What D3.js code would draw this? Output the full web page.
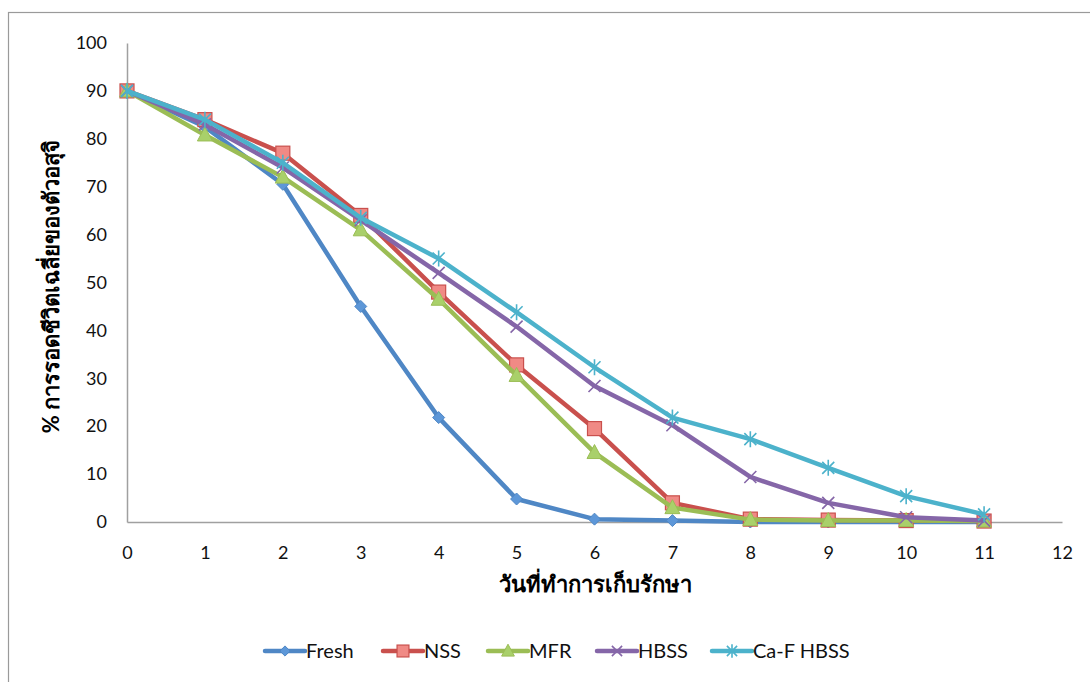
<!DOCTYPE html>
<html>
<head>
<meta charset="utf-8">
<script src="https://cdn.jsdelivr.net/npm/d3@7"></script>
<style>
  body { margin: 0; background: #fff; }
  svg { display: block; font-family: Lato, "Liberation Sans", Arial, sans-serif; }
</style>
</head>
<body>
<script>
const days = [0, 1, 2, 3, 4, 5, 6, 7, 8, 9, 10, 11];
const seriesNames = ["Fresh", "NSS", "MFR", "HBSS", "Ca-F HBSS"];
const fresh = [90, 82.5, 70.5, 45, 21.8, 4.8, 0.6, 0.3, 0, 0, 0, 0];
const nss = [90, 84, 77, 64, 48, 32.8, 19.5, 4, 0.6, 0.4, 0.3, 0.2];
const mfr = [90, 80.8, 72, 61, 46.5, 30.6, 14.5, 3, 0.5, 0.3, 0.3, 0.2];
const hbss = [90, 83, 74, 63, 52, 40.8, 28.4, 20.2, 9.4, 4, 1, 0.3];
const cafHbss = [90, 84, 75, 63.5, 55, 43.8, 32.3, 21.8, 17.3, 11.3, 5.4, 1.6];
const yTicks = [0, 10, 20, 30, 40, 50, 60, 70, 80, 90, 100];
const xTicks = [0, 1, 2, 3, 4, 5, 6, 7, 8, 9, 10, 11, 12];

const values = [fresh, nss, mfr, hbss, cafHbss];
const colors = ["#4f87c5", "#c9504d", "#9bbd55", "#8566a8", "#4cb2cb"];
const markerFill = ["#5d97d8", "#f08a85", "#a9d06a", "#8a6cb0", "#5ec2da"];
const shapes = ["diamond", "square", "triangle", "x", "star"];

const width = 1090, height = 682;
const marginLeft = 127, marginRight = 28, marginTop = 43, marginBottom = 160;

const x = d3.scaleLinear().domain([0, 12]).range([marginLeft, width - marginRight]);
const y = d3.scaleLinear().domain([0, 100]).range([height - marginBottom, marginTop]);

const svg = d3.create("svg").attr("width", width).attr("height", height);

// outer frame
svg.append("rect")
    .attr("x", 8.5).attr("y", 12.5)
    .attr("width", 1200).attr("height", 800)
    .attr("fill", "none").attr("stroke", "#9a9a9a").attr("stroke-width", 1.2);

// axes
const yAxis = svg.append("g")
    .attr("transform", `translate(${marginLeft},0)`)
    .call(d3.axisLeft(y).tickValues(yTicks).tickSize(0).tickPadding(20));
const xAxis = svg.append("g")
    .attr("transform", `translate(0,${y(0)})`)
    .call(d3.axisBottom(x).tickValues(xTicks).tickSize(0).tickPadding(24));
[xAxis, yAxis].forEach(a => {
    a.select(".domain").attr("stroke", "#a0a0a0").attr("stroke-width", 1.5);
    a.selectAll("text").attr("font-size", 18).attr("fill", "#111")
        .attr("font-family", "Lato, 'Liberation Sans', Arial, sans-serif");
});

// axis titles
svg.append("text")
    .attr("x", 595).attr("y", 592)
    .attr("text-anchor", "middle")
    .attr("font-size", 22).attr("font-weight", "bold")
    .text("วันที่ทำการเก็บรักษา");

svg.append("text")
    .attr("transform", `translate(59,${(marginTop + y(0)) / 2 + 4}) rotate(-90)`)
    .attr("text-anchor", "middle")
    .attr("font-size", 22).attr("font-weight", "bold")
    .text("% การรอดชีวิตเฉลี่ยของตัวอสุจิ");

function drawMarker(g, shape, cx, cy, i, scale) {
    const s = scale || 1;
    if (shape === "diamond") {
        g.append("path")
            .attr("d", `M${cx},${cy - 6 * s}L${cx + 6 * s},${cy}L${cx},${cy + 6 * s}L${cx - 6 * s},${cy}Z`)
            .attr("fill", markerFill[i]).attr("stroke", colors[i]).attr("stroke-width", 1);
    } else if (shape === "square") {
        g.append("rect")
            .attr("x", cx - 7 * s).attr("y", cy - 7 * s)
            .attr("width", 14 * s).attr("height", 14 * s)
            .attr("fill", markerFill[i]).attr("stroke", colors[i]).attr("stroke-width", 1.2);
    } else if (shape === "triangle") {
        g.append("path")
            .attr("d", `M${cx},${cy - 8 * s}L${cx + 7.5 * s},${cy + 6 * s}L${cx - 7.5 * s},${cy + 6 * s}Z`)
            .attr("fill", markerFill[i]).attr("stroke", colors[i]).attr("stroke-width", 1);
    } else if (shape === "x") {
        g.append("path")
            .attr("d", `M${cx - 6 * s},${cy - 6 * s}L${cx + 6 * s},${cy + 6 * s}M${cx + 6 * s},${cy - 6 * s}L${cx - 6 * s},${cy + 6 * s}`)
            .attr("stroke", colors[i]).attr("stroke-width", 1.6);
    } else {
        g.append("path")
            .attr("d", `M${cx - 6 * s},${cy - 6 * s}L${cx + 6 * s},${cy + 6 * s}M${cx + 6 * s},${cy - 6 * s}L${cx - 6 * s},${cy + 6 * s}M${cx},${cy - 8 * s}L${cx},${cy + 8 * s}`)
            .attr("stroke", colors[i]).attr("stroke-width", 1.6);
    }
}

const line = d3.line().x((d, j) => x(days[j])).y(d => y(d));

values.forEach((vals, i) => {
    const g = svg.append("g");
    g.append("path")
        .datum(vals)
        .attr("d", line)
        .attr("fill", "none")
        .attr("stroke", colors[i])
        .attr("stroke-width", 4.5)
        .attr("stroke-linejoin", "round");
    vals.forEach((v, j) => drawMarker(g, shapes[i], x(days[j]), y(v), i));
});

// legend
const legendX = [265, 383, 488, 597, 712];
const legend = svg.append("g").attr("transform", "translate(0,651)");
seriesNames.forEach((name, i) => {
    const g = legend.append("g").attr("transform", `translate(${legendX[i]},0)`);
    g.append("line").attr("x1", 0).attr("x2", 40).attr("y1", 0).attr("y2", 0)
        .attr("stroke", colors[i]).attr("stroke-width", 4.5).attr("stroke-linecap", "round");
    drawMarker(g, shapes[i], 20, 0, i, 0.85);
    g.append("text").attr("x", 41).attr("y", 7)
        .attr("font-size", 20).attr("fill", "#111").text(name);
});

document.body.appendChild(svg.node());
</script>
</body>
</html>
